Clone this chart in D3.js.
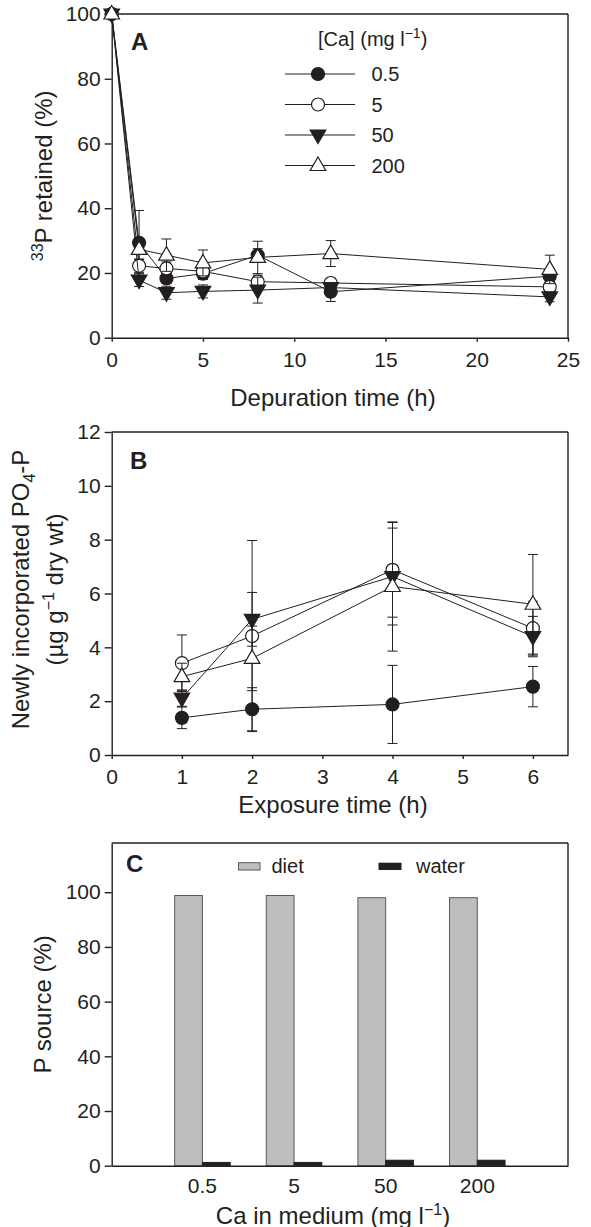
<!DOCTYPE html>
<html>
<head>
<meta charset="utf-8">
<script src="https://cdn.jsdelivr.net/npm/d3@7/dist/d3.min.js"></script>
<style>
body { margin: 0; background: #fff; }
text { font-family: "Liberation Sans", Arial, Helvetica, sans-serif; fill: #231f20; }
.axis path, .axis line { stroke: #231f20; stroke-width: 1.4; }
.axis text { font-size: 21px; }
</style>
</head>
<body>
<div id="fig"></div>
<script>
// ---- panel A: depuration
var depTime = [0, 1.5, 3, 5, 8, 12, 24];
var ret05  = [100, 29.3, 18.3, 19.8, 25.5, 14.2, 19.0];
var ret5   = [100, 22.2, 21.4, 20.5, 17.3, 16.9, 15.7];
var ret50  = [100, 17.8, 13.9, 14.3, 14.7, 15.5, 12.6];
var ret200 = [100, 27.3, 25.5, 23.1, 24.8, 26.0, 21.1];
var retErr05  = [0, 10, 1.5, 1.5, 2, 3, 2];
var retErr5   = [0, 2, 2, 2.5, 2, 1.5, 1.5];
var retErr50  = [0, 2, 2, 2, 4, 1.5, 1.5];
var retErr200 = [0, 3, 5, 4, 5, 4, 4.4];

// ---- panel B: uptake
var expTime = [1, 2, 4, 6];
var upt05  = [1.38, 1.70, 1.88, 2.54];
var upt5   = [3.41, 4.42, 6.88, 4.71];
var upt50  = [2.11, 5.04, 6.63, 4.40];
var upt200 = [2.91, 3.59, 6.26, 5.60];
var uptErr05  = [0.4, 0.8, 1.45, 0.75];
var uptErr5   = [1.05, 3.55, 1.76, 1.0];
var uptErr50  = [0.3, 1.0, 1.8, 0.75];
var uptErr200 = [0.5, 1.2, 2.4, 1.85];

// ---- panel C: P source
var caLevels = ["0.5", "5", "50", "200"];
var dietPct  = [98.8, 98.8, 98.0, 98.0];
var waterPct = [1.2, 1.2, 2.0, 2.0];

var seriesNames = ["0.5", "5", "50", "200"];
var seriesShape = ["circle", "circle", "down", "up"];
var seriesFill  = ["#231f20", "#fff", "#231f20", "#fff"];

var ink = "#231f20";
var w = 591, h = 1227;
var left = 111.7, right = 568;
var titleX = 333;

var svg = d3.select("#fig").append("svg")
    .attr("width", w)
    .attr("height", h);

function shapePath(type) {
    if (type == "circle") return d3.symbol().type(d3.symbolCircle).size(Math.PI * 6.5 * 6.5)();
    if (type == "up") return "M0,-8.5L7.8,5L-7.8,5Z";
    return "M0,8.5L7.8,-5L-7.8,-5Z";
}

function drawFrame(x, y) {
    var x0 = x.range()[0], x1 = x.range()[1];
    var y0 = y.range()[0], y1 = y.range()[1];
    svg.append("line").attr("x1", x0).attr("x2", x1).attr("y1", y1).attr("y2", y1)
        .attr("stroke", ink).attr("stroke-width", 1.4);
    svg.append("line").attr("x1", x1).attr("x2", x1).attr("y1", y1).attr("y2", y0)
        .attr("stroke", ink).attr("stroke-width", 1.4);
}

function drawSeries(x, y, xs, vals, errs, i) {
    var pts = xs.map(function(t, j) { return {x: t, v: vals[j], e: errs[j]}; });
    var g = svg.append("g");
    // error bars
    pts.filter(function(d) { return d.e > 0; }).forEach(function(d) {
        var cx = x(d.x);
        g.append("line").attr("x1", cx).attr("x2", cx)
            .attr("y1", y(d.v - d.e)).attr("y2", y(d.v + d.e))
            .attr("stroke", ink).attr("stroke-width", 1);
        [d.v - d.e, d.v + d.e].forEach(function(v) {
            g.append("line").attr("x1", cx - 5).attr("x2", cx + 5)
                .attr("y1", y(v)).attr("y2", y(v))
                .attr("stroke", ink).attr("stroke-width", 1);
        });
    });
    var line = d3.line().x(function(d) { return x(d.x); }).y(function(d) { return y(d.v); });
    g.append("path").datum(pts).attr("d", line)
        .attr("fill", "none").attr("stroke", ink).attr("stroke-width", 1);
    g.selectAll(".mk").data(pts).enter().append("path")
        .attr("transform", function(d) { return "translate(" + x(d.x) + "," + y(d.v) + ")"; })
        .attr("d", shapePath(seriesShape[i]))
        .attr("fill", seriesFill[i])
        .attr("stroke", ink).attr("stroke-width", 1.2);
}

function panelLetter(txt, px, py) {
    svg.append("text").attr("x", px).attr("y", py)
        .style("font-size", "24px").style("font-weight", "bold").text(txt);
}

// ================= Panel A =================
var xA = d3.scaleLinear().domain([0, 25]).range([left, right]);
var yA = d3.scaleLinear().domain([0, 100]).range([337.7, 14]);

svg.append("g").attr("class", "axis")
    .attr("transform", "translate(0," + yA(0) + ")")
    .call(d3.axisBottom(xA).tickValues([0, 5, 10, 15, 20, 25]).tickSize(4).tickSizeOuter(0).tickPadding(10));
svg.append("g").attr("class", "axis")
    .attr("transform", "translate(" + left + ",0)")
    .call(d3.axisLeft(yA).tickValues([0, 20, 40, 60, 80, 100]).tickSize(7).tickSizeOuter(0).tickPadding(4));
drawFrame(xA, yA);

var retVals = [ret05, ret5, ret50, ret200];
var retErrs = [retErr05, retErr5, retErr50, retErr200];
retVals.forEach(function(v, i) { drawSeries(xA, yA, depTime, v, retErrs[i], i); });

panelLetter("A", 131, 50);

// legend A
var legA = svg.append("text").attr("x", 318).attr("y", 46).style("font-size", "20px");
legA.append("tspan").text("[Ca] (mg l");
legA.append("tspan").attr("dy", -8).style("font-size", "14px").text("\u22121");
legA.append("tspan").attr("dy", 8).text(")");
var legRows = [74, 104.5, 135, 165.5];
seriesNames.forEach(function(nm, i) {
    var ry = legRows[i];
    svg.append("line").attr("x1", 285).attr("x2", 355).attr("y1", ry).attr("y2", ry)
        .attr("stroke", ink).attr("stroke-width", 1);
    svg.append("path").attr("transform", "translate(318," + ry + ")")
        .attr("d", shapePath(seriesShape[i]))
        .attr("fill", seriesFill[i]).attr("stroke", ink).attr("stroke-width", 1.2);
    svg.append("text").attr("x", 371.5).attr("y", ry + 7).style("font-size", "20px").text(nm);
});

// axis titles A
svg.append("text").attr("x", titleX).attr("y", 405.5)
    .attr("text-anchor", "middle").style("font-size", "24px").text("Depuration time (h)");
var ytA = svg.append("text").attr("transform", "translate(52," + ((yA(0) + yA(100)) / 2) + ") rotate(-90)")
    .attr("text-anchor", "middle").style("font-size", "24px");
ytA.append("tspan").attr("dy", -9).style("font-size", "16px").text("33");
ytA.append("tspan").attr("dy", 9).text("P retained (%)");

// ================= Panel B =================
var xB = d3.scaleLinear().domain([0, 6.5]).range([left, right]);
var yB = d3.scaleLinear().domain([0, 12]).range([755, 432]);

svg.append("g").attr("class", "axis")
    .attr("transform", "translate(0," + yB(0) + ")")
    .call(d3.axisBottom(xB).tickValues([0, 1, 2, 3, 4, 5, 6]).tickFormat(d3.format("d"))
        .tickSize(4).tickSizeOuter(0).tickPadding(10.5));
svg.append("g").attr("class", "axis")
    .attr("transform", "translate(" + left + ",0)")
    .call(d3.axisLeft(yB).tickValues([0, 2, 4, 6, 8, 10, 12]).tickSize(7).tickSizeOuter(0).tickPadding(4));
drawFrame(xB, yB);

var uptVals = [upt05, upt5, upt50, upt200];
var uptErrs = [uptErr05, uptErr5, uptErr50, uptErr200];
uptVals.forEach(function(v, i) { drawSeries(xB, yB, expTime, v, uptErrs[i], i); });

panelLetter("B", 130, 469);

svg.append("text").attr("x", titleX).attr("y", 813)
    .attr("text-anchor", "middle").style("font-size", "24px").text("Exposure time (h)");
var midB = (yB(0) + yB(12)) / 2 - 4;
var ytB1 = svg.append("text").attr("transform", "translate(29," + midB + ") rotate(-90)")
    .attr("text-anchor", "middle").style("font-size", "24px");
ytB1.append("tspan").text("Newly incorporated PO");
ytB1.append("tspan").attr("dy", 6).style("font-size", "16px").text("4");
ytB1.append("tspan").attr("dy", -6).text("-P");
var ytB2 = svg.append("text").attr("transform", "translate(63," + midB + ") rotate(-90)")
    .attr("text-anchor", "middle").style("font-size", "24px");
ytB2.append("tspan").text("(\u00b5g g");
ytB2.append("tspan").attr("dy", -9).style("font-size", "16px").text("\u22121");
ytB2.append("tspan").attr("dy", 9).text(" dry wt)");

// ================= Panel C =================
var xC = d3.scaleBand().domain(caLevels).range([left, right]).paddingInner(0).paddingOuter(0.49);
var xCin = d3.scaleBand().domain(["diet", "water"]).range([0, 55.5]).padding(0);
var yC = d3.scaleLinear().domain([0, 118]).range([1165.7, 843]);

svg.append("g").attr("class", "axis")
    .attr("transform", "translate(" + left + ",0)")
    .call(d3.axisLeft(yC).tickValues([0, 20, 40, 60, 80, 100]).tickSize(7).tickSizeOuter(0).tickPadding(4));

var barData = [];
caLevels.forEach(function(c, i) {
    barData.push({cat: c, src: "diet", v: dietPct[i]});
    barData.push({cat: c, src: "water", v: waterPct[i]});
});
svg.selectAll(".bar").data(barData).enter().append("rect")
    .attr("x", function(d) { return xC(d.cat) + xC.bandwidth() / 2 - 27.75 + xCin(d.src); })
    .attr("y", function(d) { return yC(d.v); })
    .attr("width", xCin.bandwidth())
    .attr("height", function(d) { return yC(0) - yC(d.v); })
    .attr("fill", function(d) { return d.src == "diet" ? "#bcbec0" : "#231f20"; })
    .attr("stroke", function(d) { return d.src == "diet" ? "#58595b" : "#231f20"; })
    .attr("stroke-width", 1);

svg.append("g").attr("class", "axis")
    .attr("transform", "translate(0," + yC(0) + ")")
    .call(d3.axisBottom(xC).tickSize(0).tickSizeOuter(0).tickPadding(12));
drawFrame(d3.scaleLinear().range([left, right]), yC);

panelLetter("C", 126, 872);

// legend C
svg.append("rect").attr("x", 238.5).attr("y", 862.7).attr("width", 21.5).attr("height", 7.3)
    .attr("fill", "#bcbec0").attr("stroke", "#58595b").attr("stroke-width", 1);
svg.append("text").attr("x", 271.5).attr("y", 872.5).style("font-size", "20px").text("diet");
svg.append("rect").attr("x", 378.5).attr("y", 862.7).attr("width", 23).attr("height", 7.3)
    .attr("fill", "#231f20");
svg.append("text").attr("x", 416).attr("y", 872.5).style("font-size", "20px").text("water");

var xtC = svg.append("text").attr("x", titleX).attr("y", 1223.5)
    .attr("text-anchor", "middle").style("font-size", "24px");
xtC.append("tspan").text("Ca in medium (mg l");
xtC.append("tspan").attr("dy", -9).style("font-size", "16px").text("\u22121");
xtC.append("tspan").attr("dy", 9).text(")");
svg.append("text").attr("transform", "translate(51," + ((yC(0) + yC(118)) / 2) + ") rotate(-90)")
    .attr("text-anchor", "middle").style("font-size", "24px").text("P source (%)");
</script>
</body>
</html>
